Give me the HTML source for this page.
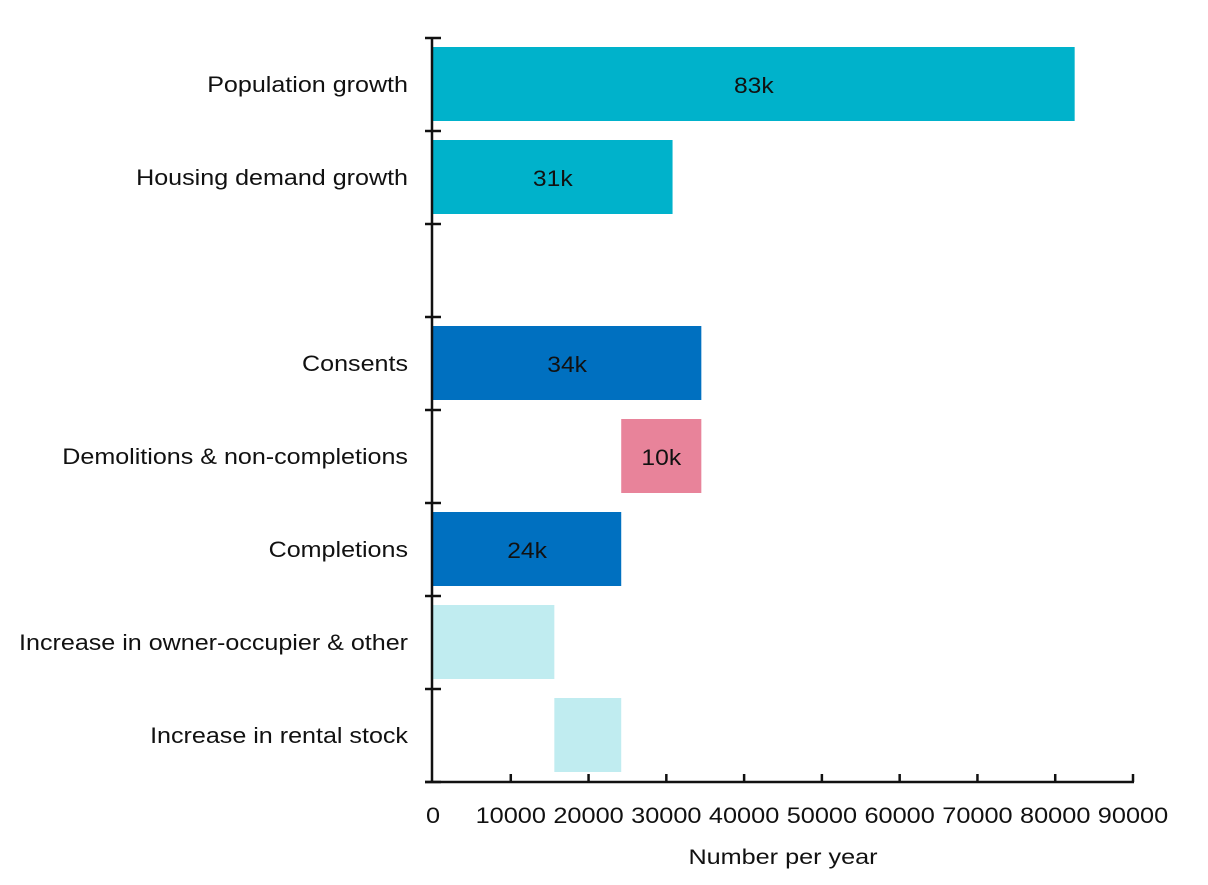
<!DOCTYPE html>
<html><head><meta charset="utf-8"><style>
body{margin:0;background:#fff;}
svg text{font-family:"Liberation Sans",sans-serif;fill:#111;}
</style></head><body>
<svg id="c" width="1208" height="880"></svg>
<script>
const categories=["Population growth","Housing demand growth","","Consents","Demolitions & non-completions","Completions","Increase in owner-occupier & other","Increase in rental stock"];
const starts=[0,0,null,0,24200,0,0,15600];
const ends=[82500,30800,null,34500,34500,24200,15600,24200];
const valueLabels=["83k","31k","","34k","10k","24k","",""];
const colors=["#00b2cb","#00b2cb","","#0070c0","#e8839a","#0070c0","#c0ecf0","#c0ecf0"];
const xTicks=[0,10000,20000,30000,40000,50000,60000,70000,80000,90000];
const NS="http://www.w3.org/2000/svg";
const svgEl=document.getElementById('c');
const x0=433,x1=1133,yTop=38,yBot=782;
const band=(yBot-yTop)/categories.length;
const xs=v=>x0+(v/90000)*(x1-x0);
function el(t,a){const e=document.createElementNS(NS,t);for(const k in a)e.setAttribute(k,a[k]);svgEl.appendChild(e);return e;}
function stretch(t,f){const w=t.getComputedTextLength();t.setAttribute('textLength',w*f);t.setAttribute('lengthAdjust','spacingAndGlyphs');}
categories.forEach((c,i)=>{
  const y=yTop+i*band;
  if(starts[i]!==null){
    const r=el('rect',{x:xs(starts[i]),y:y+9,width:xs(ends[i])-xs(starts[i]),height:74,fill:colors[i]});
    
    
    if(valueLabels[i]){
      const t=el('text',{x:(xs(starts[i])+xs(ends[i]))/2,y:y+55,'text-anchor':'middle','font-size':22});
      t.textContent=valueLabels[i];
      
      
      stretch(t,1.12);
    }
  }
  if(c){
    const t=el('text',{x:408,y:y+54,'text-anchor':'end','font-size':22});
    t.textContent=c;
    
    
    stretch(t,1.14);
  }
});
for(let i=0;i<=categories.length;i++){
  const y=yTop+i*band;
  const l=el('line',{x1:425,x2:441,y1:y,y2:y,stroke:'#111','stroke-width':2.5});
  
  
}
const ya=el('line',{x1:432,x2:432,y1:yTop,y2:yBot,stroke:'#111','stroke-width':2.5});


const xa=el('line',{x1:425,x2:1134,y1:yBot,y2:yBot,stroke:'#111','stroke-width':2.5});


xTicks.forEach(v=>{
  if(v>0){
    const l=el('line',{x1:xs(v),x2:xs(v),y1:yBot-8,y2:yBot,stroke:'#111','stroke-width':2.5});
    
    
  }
  const t=el('text',{x:xs(v),y:823,'text-anchor':'middle','font-size':22});
  t.textContent=v;
  
  
  stretch(t,1.15);
});
const at=el('text',{x:783,y:864,'text-anchor':'middle','font-size':21});
at.textContent="Number per year";


stretch(at,1.2);
</script>
</body></html>
